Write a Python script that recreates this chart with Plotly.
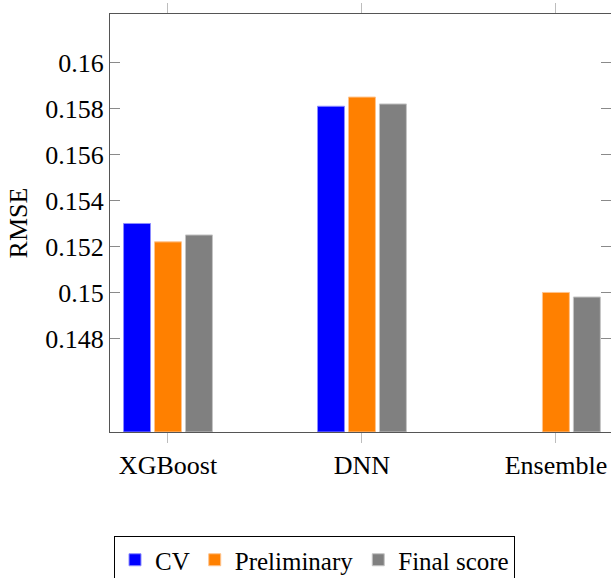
import plotly.graph_objects as go

# RMSE per model for each evaluation stage
models = ["XGBoost", "DNN", "Ensemble"]
cv_rmse = [0.1530, 0.1581, None]
preliminary_rmse = [0.1522, 0.1585, 0.1500]
final_rmse = [0.1525, 0.1582, 0.1498]

y_ticks = [0.148, 0.150, 0.152, 0.154, 0.156, 0.158, 0.160]
y_tick_text = ["0.148", "0.15", "0.152", "0.154", "0.156", "0.158", "0.16"]

series = [
    ("CV", cv_rmse, "#0000ff", "#8c8cff"),
    ("Preliminary", preliminary_rmse, "#ff8000", "#ffc38c"),
    ("Final score", final_rmse, "#808080", "#c4c4c4"),
]

font_family = "Liberation Serif"
font_size = 26
y_min, y_max = 0.143928, 0.162114
plot_h = 578 - 14 - 146

fig = go.Figure()
for name, values, fill, edge in series:
    fig.add_trace(go.Bar(
        name=name,
        x=models,
        y=[None if v is None else v - y_min for v in values],
        base=y_min,
        marker=dict(color=fill, line=dict(color=edge, width=1)),
    ))

fig.update_layout(
    width=611,
    height=578,
    margin=dict(l=110, r=0, t=14, b=146, autoexpand=False),
    paper_bgcolor="white",
    plot_bgcolor="white",
    barmode="group",
    bargap=0.521,
    bargroupgap=0.129,
    font=dict(family=font_family, size=font_size, color="black"),
    showlegend=True,
    legend=dict(
        orientation="h",
        x=4 / 501, xanchor="left",
        y=-(536 - 432) / plot_h, yanchor="top",
        bordercolor="black", borderwidth=1,
        bgcolor="white",
        font=dict(family=font_family, size=25, color="black"),
        itemwidth=30,
        tracegroupgap=0,
    ),
)

fig.update_xaxes(
    range=[-0.299, 2.284],
    showline=True, linecolor="#555555", linewidth=1.2,
    mirror="ticks",
    ticks="outside", ticklen=10, tickcolor="#bdbdbd", tickwidth=1.2,
    showgrid=False, zeroline=False,
    tickfont=dict(family=font_family, size=font_size, color="black"),
)

fig.update_yaxes(
    range=[y_min, y_max],
    tickvals=y_ticks, ticktext=y_tick_text,
    showline=True, linecolor="#555555", linewidth=1.2,
    mirror="ticks",
    ticks="inside", ticklen=10, tickcolor="#8a8a8a", tickwidth=1.2,
    showgrid=False, zeroline=False,
    tickfont=dict(family=font_family, size=font_size, color="black"),
    title=dict(text="RMSE", font=dict(family=font_family, size=font_size, color="black"), standoff=10),
)

fig.write_html("out.html")
